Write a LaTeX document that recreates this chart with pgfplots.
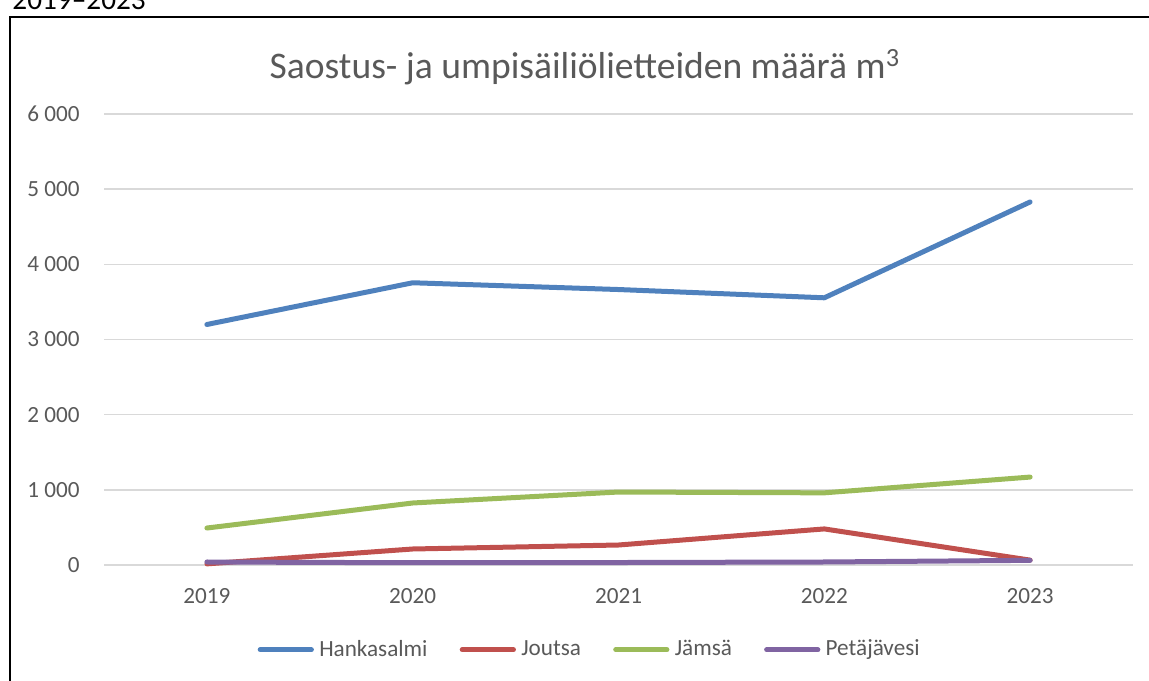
\documentclass[border=0pt]{standalone}
\usepackage{fontspec}
\setmainfont{Carlito}
\usepackage{pgfplots}
\pgfplotsset{compat=1.18}
\definecolor{txt}{HTML}{595959}
\definecolor{grd}{HTML}{D9D9D9}
\definecolor{cA}{HTML}{4F81BD}
\definecolor{cB}{HTML}{C0504D}
\definecolor{cC}{HTML}{9BBB59}
\definecolor{cD}{HTML}{8064A2}
\begin{document}
\begin{tikzpicture}[x=0.41pt,y=0.41pt]
\path[use as bounding box] (0,0) rectangle (1149,680);
\clip (0,0) rectangle (1149,680);
\node[anchor=base west, inner sep=0pt, font=\fontsize{12pt}{14pt}\selectfont] at (12,670.5) {2019–2023};
\draw[black, line width=1.2pt] (10,-20) -- (10,663) -- (1170,663);
\begin{axis}[
  at={(42.64pt,47.15pt)}, anchor=south west,
  scale only axis, width=421.9pt, height=184.9pt,
  xmin=-0.5, xmax=4.5, ymin=0, ymax=6000,
  xtick={0,1,2,3,4}, xticklabels={2019,2020,2021,2022,2023},
  ytick={0,1000,2000,3000,4000,5000,6000},
  yticklabels={0,1 000,2 000,3 000,4 000,5 000,6 000},
  axis line style={draw=none},
  major tick length=0pt,
  tick style={draw=none},
  ymajorgrids, grid style={grd, line width=0.6pt},
  tick label style={font=\fontsize{9.5pt}{11pt}\selectfont, text=txt},
  yticklabel style={anchor=east, inner sep=0pt, xshift=-9.8pt},
  xticklabel style={anchor=north, inner sep=0pt, yshift=-9.4pt},
  clip=false,
  legend columns=4,
  legend style={at={(0.471,-0.188)}, anchor=center, draw=none, fill=none,
    font=\fontsize{9.5pt}{11pt}\selectfont, text=txt,
    inner sep=0pt,
    nodes={inner xsep=0pt, inner ysep=1pt},
    /tikz/every odd column/.append style={column sep=2.2pt},
    /tikz/every even column/.append style={column sep=13.2pt}},
  legend image code/.code={\draw[#1, line width=2.05pt, line cap=round] (0pt,0pt) -- (21pt,0pt);},
  every axis plot/.append style={line width=2.05pt, line cap=round, line join=round, mark=none},
]
\addplot[cA] coordinates {(0,3200) (1,3755) (2,3665) (3,3555) (4,4830)};
\addlegendentry{Hankasalmi}
\addplot[cB] coordinates {(0,15) (1,213) (2,266) (3,480) (4,65)};
\addlegendentry{Joutsa}
\addplot[cC] coordinates {(0,492) (1,825) (2,971) (3,960) (4,1170)};
\addlegendentry{Jämsä}
\addplot[cD] coordinates {(0,40) (1,30) (2,33) (3,40) (4,62)};
\addlegendentry{Petäjävesi}
\end{axis}
\node[anchor=base, inner sep=0pt, text=txt, font=\fontsize{15.4pt}{17pt}\selectfont] at (585,601) {Saostus- ja umpisäiliölietteiden määrä m\textsuperscript{3}};
\end{tikzpicture}
\end{document}
